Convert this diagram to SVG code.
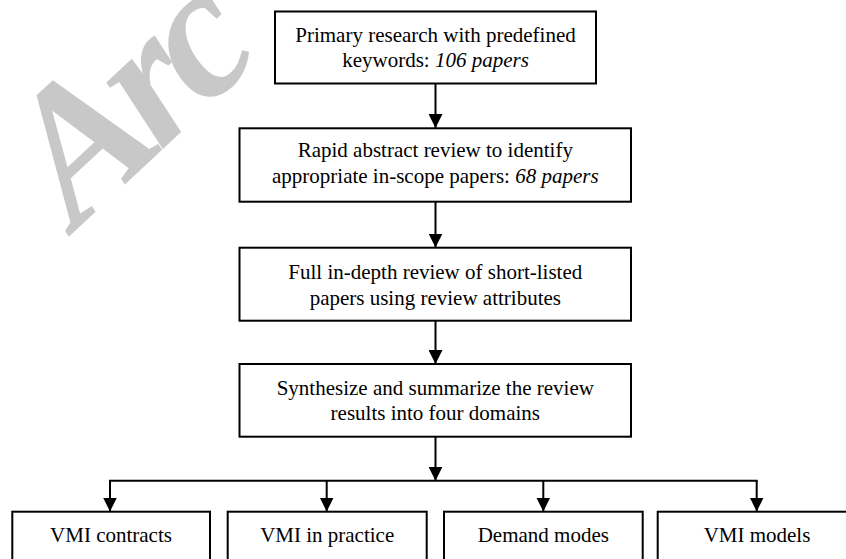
<svg xmlns="http://www.w3.org/2000/svg" width="846" height="559" viewBox="0 0 846 559">
<style>
.box{fill:#fff;stroke:#000;stroke-width:2}
.t{font-family:"Liberation Serif","Times New Roman",serif;font-size:21px;fill:#000;text-anchor:middle}
.it{font-style:italic}
.c{fill:none;stroke:#000;stroke-width:2}
.wm{font-family:"Liberation Serif","Times New Roman",serif;font-size:190px;font-weight:bold;font-style:italic;fill:#c8c8c8;letter-spacing:-12px}
</style>
<defs>
<marker id="ah" markerUnits="userSpaceOnUse" markerWidth="14" markerHeight="14" refX="14" refY="7" orient="auto">
<path d="M0,0 L14,7 L0,14 z" fill="#000"/>
</marker>
</defs>
<rect width="846" height="559" fill="#fff"/>
<text class="wm" transform="translate(76,230) rotate(-43)">Arc</text>
<g id="connectors">
<line class="c" x1="435.5" y1="84" x2="435.5" y2="128" marker-end="url(#ah)"/>
<line class="c" x1="435.5" y1="202" x2="435.5" y2="247.5" marker-end="url(#ah)"/>
<line class="c" x1="435.5" y1="321" x2="435.5" y2="364" marker-end="url(#ah)"/>
<line class="c" x1="435.5" y1="437" x2="435.5" y2="480.7" marker-end="url(#ah)"/>
<line class="c" x1="109" y1="480.7" x2="757.7" y2="480.7"/>
<line class="c" x1="110" y1="480.7" x2="110" y2="511.5" marker-end="url(#ah)"/>
<line class="c" x1="326.7" y1="480.7" x2="326.7" y2="511.5" marker-end="url(#ah)"/>
<line class="c" x1="543.3" y1="480.7" x2="543.3" y2="511.5" marker-end="url(#ah)"/>
<line class="c" x1="756.7" y1="480.7" x2="756.7" y2="511.5" marker-end="url(#ah)"/>
</g>
<g id="n1">
<rect class="box" x="275" y="11.5" width="321" height="72"/>
<text class="t" x="435.5" y="41.7">Primary research with predefined</text>
<text class="t" x="435.5" y="66.5">keywords: <tspan class="it">106 papers</tspan></text>
</g>
<g id="n2">
<rect class="box" x="239.5" y="128.3" width="391.5" height="73.4"/>
<text class="t" x="435.3" y="157">Rapid abstract review to identify</text>
<text class="t" x="435.3" y="182.8">appropriate in-scope papers: <tspan class="it">68 papers</tspan></text>
</g>
<g id="n3">
<rect class="box" x="239.5" y="247.7" width="391.5" height="73"/>
<text class="t" x="435.3" y="279.3">Full in-depth review of short-listed</text>
<text class="t" x="435.3" y="305">papers using review attributes</text>
</g>
<g id="n4">
<rect class="box" x="239.5" y="364" width="391.5" height="72.7"/>
<text class="t" x="435.3" y="395">Synthesize and summarize the review</text>
<text class="t" x="435.3" y="420.3">results into four domains</text>
</g>
<g id="n5">
<rect class="box" x="12.3" y="511.7" width="197.7" height="70"/>
<text class="t" x="111" y="541.7">VMI contracts</text>
</g>
<g id="n6">
<rect class="box" x="227.7" y="511.7" width="199" height="70"/>
<text class="t" x="327.2" y="541.7">VMI in practice</text>
</g>
<g id="n7">
<rect class="box" x="444" y="511.7" width="198.7" height="70"/>
<text class="t" x="543.3" y="541.7">Demand modes</text>
</g>
<g id="n8">
<rect class="box" x="657.7" y="511.7" width="198.7" height="70"/>
<text class="t" x="757" y="541.7">VMI models</text>
</g>
</svg>
